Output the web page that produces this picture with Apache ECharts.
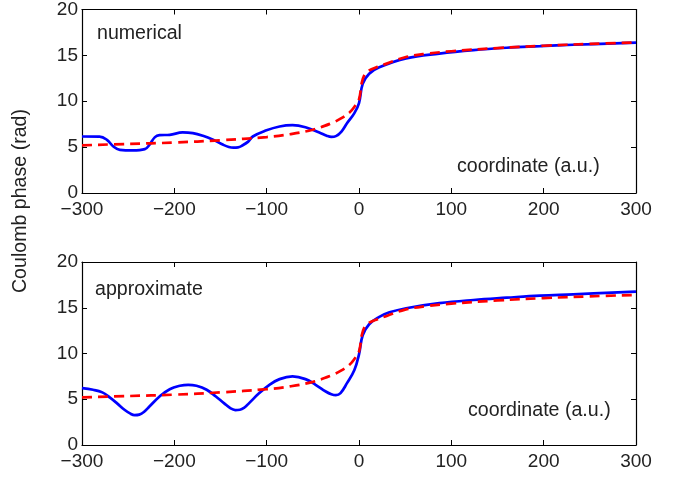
<!DOCTYPE html>
<html>
<head>
<meta charset="utf-8">
<script src="https://cdn.jsdelivr.net/npm/echarts@6/dist/echarts.min.js"></script>
<style>html,body{margin:0;padding:0;background:#fff}#c{width:678px;height:477px}</style>
</head>
<body>
<div id="c"></div>
<script>
// ---- data ----
const xTicks = [-300, -200, -100, 0, 100, 200, 300];
const yTicks = [0, 5, 10, 15, 20];

const xTopBlue = [-300,-281,-273,-266,-259,-245,-232,-227,-221,-216,-205,-191,-180,-169,-158,-147,-141,-136,-131,-126,-120,-115,-101,-86,-72,-58,-43,-35,-30,-25,-19,-13,-5,0,4,11,22,51,87,124,160,196,232,300];
const yTopBlue = [6.16,6.15,5.8,5.07,4.7,4.64,4.78,5.25,6.09,6.3,6.34,6.6,6.52,6.23,5.8,5.25,5.02,4.95,4.98,5.2,5.6,6.16,6.8,7.25,7.39,7.17,6.6,6.25,6.12,6.2,6.7,7.6,8.7,9.8,11.9,13.0,13.7,14.67,15.2,15.58,15.83,16.0,16.16,16.38];

const xBotBlue = [-300,-288,-278,-270,-262,-254,-248,-243,-238,-233,-227,-216,-205,-194,-185,-176,-165,-155,-146,-139,-134,-129,-124,-119,-108,-97,-86,-72,-58,-47,-36,-30,-25,-20,-13,-5,0,4,11,22,33,51,87,124,160,196,232,300];
const yBotBlue = [6.22,6.04,5.75,5.2,4.55,3.85,3.45,3.26,3.32,3.6,4.2,5.3,6.1,6.47,6.58,6.47,6.04,5.3,4.55,4.0,3.82,3.85,4.1,4.58,5.67,6.58,7.2,7.49,7.2,6.58,5.85,5.55,5.45,5.67,6.76,8.2,9.9,12.0,13.2,14.0,14.5,14.95,15.5,15.85,16.1,16.33,16.47,16.76];

const xRed = [-300,-250,-200,-150,-100,-75,-50,-30,-20,-10,-5,0,3,6,10,20,30,50,75,100,150,200,250,300];
const yRed = [5.2,5.35,5.5,5.75,6.1,6.4,6.9,7.6,8.1,8.8,9.4,10.2,12.0,12.9,13.3,13.75,14.1,14.8,15.2,15.45,15.8,16.05,16.25,16.4];

const panelLabels = ['numerical', 'approximate'];
const xAxisTitle = 'coordinate (a.u.)';
const yAxisTitle = 'Coulomb phase (rad)';

// ---- chart ----
const FONT = 'Liberation Sans, Arial, Helvetica, sans-serif';
const FS = 19;
const FT = 19.6;
const pairs = (xs, ys) => xs.map((x, i) => [x, ys[i]]);
const fmtX = v => (v < 0 ? '\u2212' + Math.abs(v) : String(v));

function xAx(grid, pos, labels) {
  return {
    type: 'value', gridIndex: grid, position: pos,
    min: xTicks[0], max: xTicks[xTicks.length - 1], interval: 100,
    axisLine: { show: true, onZero: false, lineStyle: { color: '#000', width: 1.2 } },
    axisTick: { show: true, inside: true, length: 5, lineStyle: { color: '#000' } },
    axisLabel: { show: labels, formatter: fmtX, color: '#222', fontSize: FS, fontFamily: FONT, margin: 7 },
    splitLine: { show: false }
  };
}
function yAx(grid, pos, labels) {
  return {
    type: 'value', gridIndex: grid, position: pos,
    min: yTicks[0], max: yTicks[yTicks.length - 1], interval: 5,
    axisLine: { show: true, onZero: false, lineStyle: { color: '#000', width: 1.2 } },
    axisTick: { show: true, inside: true, length: 5, lineStyle: { color: '#000' } },
    axisLabel: { show: labels, color: '#222', fontSize: FS, fontFamily: FONT, margin: 4 },
    splitLine: { show: false }
  };
}
function blue(data, xi, yi) {
  return { type: 'line', xAxisIndex: xi, yAxisIndex: yi, data, smooth: 0.4, showSymbol: false,
    lineStyle: { color: '#0000ff', width: 2.7 }, z: 2 };
}
function red(data, xi, yi) {
  return { type: 'line', xAxisIndex: xi, yAxisIndex: yi, data, smooth: 0.4, showSymbol: false,
    lineStyle: { color: '#ff0000', width: 2.7, type: [10, 6] }, z: 3 };
}

const chart = echarts.init(document.getElementById('c'), null, { renderer: 'canvas' });
chart.setOption({
  animation: false,
  backgroundColor: '#fff',
  grid: [
    { left: 82, top: 9, width: 554, height: 184 },
    { left: 82, top: 262, width: 554, height: 183 }
  ],
  xAxis: [xAx(0, 'bottom', true), xAx(0, 'top', false), xAx(1, 'bottom', true), xAx(1, 'top', false)],
  yAxis: [yAx(0, 'left', true), yAx(0, 'right', false), yAx(1, 'left', true), yAx(1, 'right', false)],
  series: [
    blue(pairs(xTopBlue, yTopBlue), 0, 0),
    red(pairs(xRed, yRed), 0, 0),
    blue(pairs(xBotBlue, yBotBlue), 2, 2),
    red(pairs(xRed, yRed), 2, 2)
  ],
  graphic: [
    { type: 'text', left: 97, top: 24, style: { text: panelLabels[0], font: FT + 'px ' + FONT, fill: '#222' } },
    { type: 'text', left: 95, top: 280, style: { text: panelLabels[1], font: FT + 'px ' + FONT, fill: '#222' } },
    { type: 'text', left: 457, top: 157, style: { text: xAxisTitle, font: FT + 'px ' + FONT, fill: '#222' } },
    { type: 'text', left: 468, top: 401, style: { text: xAxisTitle, font: FT + 'px ' + FONT, fill: '#222' } },
    { type: 'text', x: 21, y: 201, rotation: Math.PI / 2,
      style: { text: yAxisTitle, font: FT + 'px ' + FONT, fill: '#222', align: 'center', verticalAlign: 'middle' } }
  ]
});
</script>
</body>
</html>
